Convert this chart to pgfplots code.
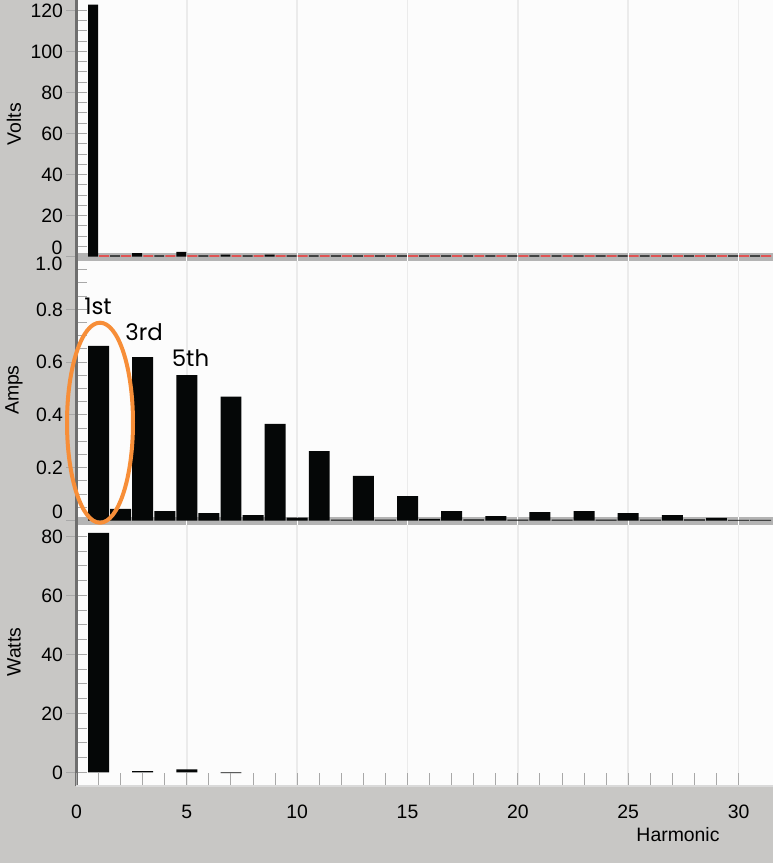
\documentclass[border=0pt]{standalone}
\usepackage{pgfplots}
\pgfplotsset{compat=1.18}
\usepackage{fontspec}
\setmainfont{Liberation Sans}
\newfontfamily\annfont{Poppins}

\definecolor{bggrey}{HTML}{C8C7C5}
\definecolor{axisdark}{HTML}{6E6E6E}
\definecolor{tickc}{HTML}{A8A8A8}
\definecolor{gridc}{HTML}{EBEBEB}
\definecolor{bandc}{HTML}{B4B4B4}
\definecolor{plotbg}{HTML}{FCFCFC}
\definecolor{barc}{HTML}{050707}
\definecolor{redc}{HTML}{F52020}
\definecolor{orangec}{HTML}{F78E38}
\definecolor{linec}{HTML}{DADADA}

\newcommand\lblfont{\fontsize{9.7}{11}\selectfont}

\pgfplotsset{
  base/.style={
    scale only axis, width=348.25pt,
    xmin=0, xmax=31.56,
    xtick={0,5,...,30},
    tick label style={font=\lblfont},
    /pgf/number format/assume math mode=true,
  },
  panel/.style={
    base,
    axis background/.style={fill=plotbg},
    xmajorgrids, major grid style={gridc, line width=0.75pt},
    xticklabels={}, xtick style={draw=none},
    axis x line*=bottom, axis y line*=left,
    x axis line style={draw=none},
    y axis line style={draw=axisdark, line width=1.5pt},
    tick align=outside,
    major tick length=5pt, minor tick length=5.3pt,
    ytick style={tickc, line width=0.5pt},
    minor tick style={xshift=5.3pt},
    yticklabel style={anchor=base east, inner sep=0pt, xshift=-1.55pt, yshift=-3.45pt},
    ylabelpos/.style={every axis y label/.style={at={(axis description cs:0,##1)},
      xshift=-31.25pt, rotate=90, anchor=center, font=\lblfont}},
    ybar, bar width=0.95,
  },
}

\begin{document}
\begin{tikzpicture}[x=0.5pt,y=-0.5pt]
\fill[bggrey] (0,0) rectangle (773,863);

% Volts
\begin{axis}[panel, at={(38.25pt,-130.5pt)}, anchor=south west, height=130.5pt,
  ymin=-2.09, ymax=125, ytick={0,20,...,120}, minor ytick={0,5,...,120},
  yticklabel={\ifnum\ticknum=0 \else\pgfmathprintnumber{\tick}\fi},
  ylabelpos=0.525, ylabel={Volts}]
\fill[bandc] (axis cs:0.07,-2.09) rectangle (axis cs:31.56,1.66);
\pgfplotsinvokeforeach{5,10,...,30}{\draw[white, line width=0.6pt] (axis cs:#1,-2.09) -- (axis cs:#1,1.66);}
\addplot[fill=barc, draw=none, bar width=0.45, bar shift=-0.25] coordinates {
(1,122.8) (2,0.7) (3,1.8) (4,0.7) (5,2.3) (6,0.7) (7,1.0) (8,0.7) (9,1.0) (10,0.7)
(11,0.7) (12,0.7) (13,0.7) (14,0.7) (15,0.7) (16,0.7) (17,0.7) (18,0.7) (19,0.7) (20,0.7)
(21,0.7) (22,0.7) (23,0.7) (24,0.7) (25,0.7) (26,0.7) (27,0.7) (28,0.7) (29,0.7) (30,0.7) (31,0.7)
};
\addplot[fill=redc, draw=none, bar width=0.45, bar shift=0.25] coordinates {
(1,0.7) (2,0.7) (3,0.7) (4,0.7) (5,0.7) (6,0.7) (7,0.7) (8,0.7) (9,0.7) (10,0.7)
(11,0.7) (12,0.7) (13,0.7) (14,0.7) (15,0.7) (16,0.7) (17,0.7) (18,0.7) (19,0.7) (20,0.7)
(21,0.7) (22,0.7) (23,0.7) (24,0.7) (25,0.7) (26,0.7) (27,0.7) (28,0.7) (29,0.7) (30,0.7) (31,0.7)
};
\end{axis}

% Amps
\begin{axis}[panel, at={(38.25pt,-262.25pt)}, anchor=south west, height=131.75pt,
  ymin=-0.01476, ymax=0.9826, ytick={0,0.2,0.4,0.6,0.8},
  minor ytick={0,0.05,0.1,0.15,0.2,0.25,0.3,0.35,0.4,0.45,0.5,0.55,0.6,0.65,0.7,0.75,0.8,0.85,0.9,0.95},
  yticklabel={\ifnum\ticknum=0 \raisebox{4.45pt}{0}\else\pgfmathprintnumber{\tick}\fi},
  ylabelpos=0.51, ylabel={Amps}]
\fill[bandc] (axis cs:0.07,-0.01476) rectangle (axis cs:31.56,0.0148);
\pgfplotsinvokeforeach{5,10,...,30}{\draw[white, line width=0.6pt] (axis cs:#1,-0.01476) -- (axis cs:#1,0.0148);}
\addplot[fill=barc, draw=none] coordinates {
(1,0.661) (2,0.044) (3,0.619) (4,0.036) (5,0.551) (6,0.028) (7,0.469) (8,0.021) (9,0.366) (10,0.011)
(11,0.263) (12,0.004) (13,0.169) (14,0.004) (15,0.093) (16,0.007) (17,0.036) (18,0.005) (19,0.017) (20,0.004)
(21,0.032) (22,0.004) (23,0.036) (24,0.004) (25,0.028) (26,0.004) (27,0.021) (28,0.005) (29,0.010) (30,0.003) (31,0.003)
};
\end{axis}

% Watts
\begin{axis}[panel, at={(38.25pt,-393pt)}, anchor=south west, height=130.75pt,
  ymin=-4.64, ymax=84, ytick={0,20,...,80}, minor ytick={0,5,...,80},
  ylabelpos=0.512, ylabel={Watts}]
\addplot[fill=barc, draw=none] coordinates {
(1,81.2) (3,0.4) (5,1.0) (7,-0.3)
};
\end{axis}

% Harmonic axis
\begin{axis}[base, at={(38.25pt,-393pt)}, anchor=south west, height=130.75pt,
  ymin=-4.64, ymax=84, axis y line=none, axis x line*=bottom,
  x axis line style={draw=linec, line width=1pt},
  tick align=inside, major tick length=6.5pt, minor tick length=6.5pt,
  minor x tick num=4, xtick style={tickc, line width=0.5pt},
  xticklabel style={anchor=base, inner sep=0pt, yshift=-16.3pt},
  xlabel={Harmonic},
  every axis x label/.style={at={(axis description cs:0.8636,0)}, anchor=base,
    yshift=-27.95pt, font=\lblfont}]
\end{axis}

% tick labels shifted to stay inside their panel
\node[anchor=base east, inner sep=0pt, font=\lblfont] at (62.7,254.8) {0};
\node[anchor=base east, inner sep=0pt, font=\lblfont] at (62.7,270.9) {1.0};

\draw[orangec, line width=2pt] (100,422.7) ellipse [x radius=33, y radius=100];
\node[anchor=base, inner sep=0pt, font=\annfont\fontsize{11.4}{13}\selectfont] at (98,314) {1st};
\node[anchor=base, inner sep=0pt, font=\annfont\fontsize{11.4}{13}\selectfont] at (144,340) {3rd};
\node[anchor=base, inner sep=0pt, font=\annfont\fontsize{11.4}{13}\selectfont] at (190.5,366.7) {5th};

\pgfresetboundingbox
\path[use as bounding box] (0,0) rectangle (773,863);
\end{tikzpicture}
\end{document}
